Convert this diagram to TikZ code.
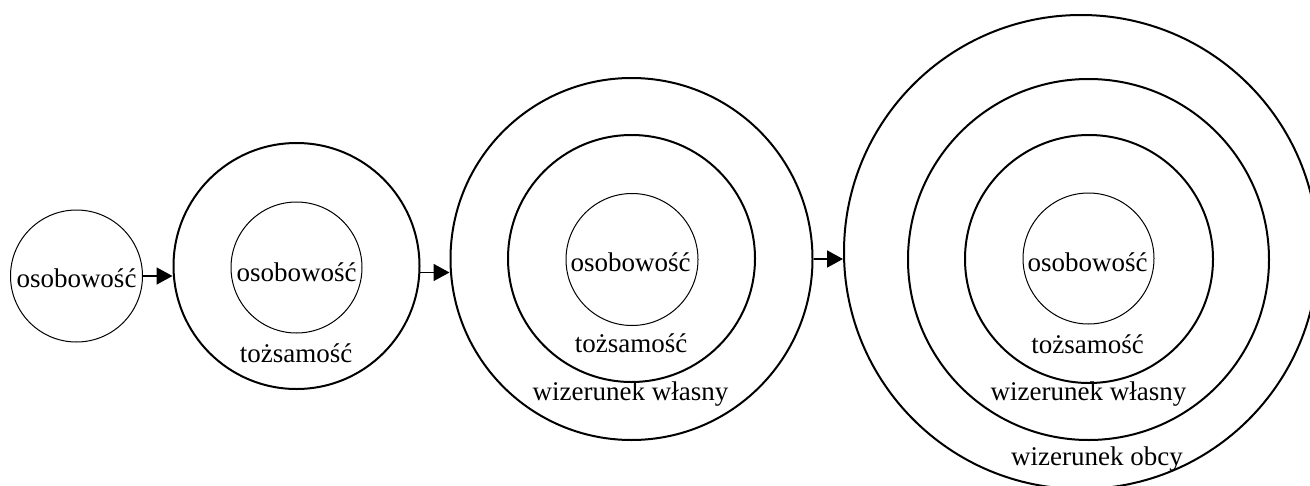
\documentclass[tikz,border=0pt]{standalone}
\usepackage{fontspec}
\setmainfont{Liberation Serif}
\usetikzlibrary{arrows.meta}
\begin{document}
\begin{tikzpicture}[x=1pt,y=-1pt,
  core/.style={circle,draw,line width=1pt,inner sep=0pt},
  ring/.style={circle,draw,line width=2pt,inner sep=0pt},
  lbl/.style={anchor=base,inner sep=0pt,font=\fontsize{27}{30}\selectfont},
  flow/.style={line width=1.8pt,-{Triangle[length=16pt,width=17pt]}}]
\useasboundingbox (0,0) rectangle (1310,485);
\clip (0,0) rectangle (1310,485);

% stage 1: personality alone
\node[core,minimum size=132pt] (a1) at (76.5,276) {};
\node[lbl] (a1t) at (76.5,287) {osobowość};

% stage 2: identity around personality
\node[ring,minimum size=246pt] (b2) at (296.5,266) {};
\node[core,minimum size=131pt] (b1) at (296.5,267.5) {};
\node[lbl] (b1t) at (296.5,281) {osobowość};
\node[lbl] (b2t) at (296,362) {tożsamość};

% stage 3: self-image added
\node[ring,minimum size=362pt] (c3) at (631.5,259) {};
\node[ring,minimum size=247pt] (c2) at (631.5,258.5) {};
\node[core,minimum size=132pt] (c1) at (632,259.5) {};
\node[lbl] (c1t) at (630.5,271) {osobowość};
\node[lbl] (c2t) at (631,352) {tożsamość};
\node[lbl] (c3t) at (630.5,400) {wizerunek własny};

% stage 4: external image added
\node[ring,minimum size=474pt] (d4) at (1081,252) {};
\node[ring,minimum size=361pt] (d3) at (1088.5,259.5) {};
\node[ring,minimum size=248pt] (d2) at (1089,259) {};
\node[core,minimum size=131pt] (d1) at (1088.5,258.5) {};
\node[lbl] (d1t) at (1087.5,271) {osobowość};
\node[lbl] (d2t) at (1087.5,353) {tożsamość};
\node[lbl] (d3t) at (1088.5,400) {wizerunek własny};
\node[lbl] (d4t) at (1097,465) {wizerunek obcy};

% transitions between stages
\draw[flow] (a1.east) -- (a1.east -| b2.west);
\draw[flow] (b2.-3.3) -- (b2.-3.3 -| c3.west);
\draw[flow] (c3.east) -- (c3.east -| d4.west);
\end{tikzpicture}
\end{document}
